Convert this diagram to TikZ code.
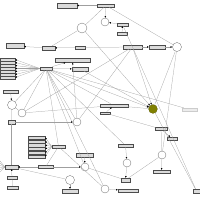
\documentclass[tikz,border=0pt]{standalone}
\usetikzlibrary{arrows.meta}
\definecolor{olivedot}{RGB}{128,128,0}
\tikzset{
  lbl/.style={draw=black!70, fill=gray!28, line width=0.3pt, inner sep=0pt, rectangle},
  place/.style={draw=black!60, fill=white, circle, line width=0.4pt, inner sep=0pt},
  link/.style={gray!75, line width=0.35pt},
  feed/.style={link, -{Latex[length=0.9mm, width=0.8mm, color=black]}},
}
\begin{document}
\begin{tikzpicture}[x=0.05cm, y=-0.05cm]
  \useasboundingbox (0,0) rectangle (200,200);
  % label boxes
  \foreach \n/\x/\y/\w/\h in {b1/67/5.5/20/5, b2/106/5.5/17/3.5, b3/122.5/24.5/11/3, b4/122/33.5/10/3,
      b5/15/46/18/5, b6/48.5/48/13/3.5, b7/80/47.5/10/3.5, b8/132.5/47/19/3.5, b9/157/47/16/3.5,
      b10/72.5/60.5/35/4, hub/46/68.5/12/3.5, b11/80/69/16/4, b12/10.5/92/15/3, b13/11.5/122/7/4,
      b14/114/105.5/28/3.5, b15/105/113/10/2.5, b17/161/129/12/3, b18/172/138.5/10/3,
      b19/161.5/171.5/17/3, b20/125.5/145.5/15/3, b21/125.5/180/9/4, b22/128/190.5/20/3,
      b23/196.5/191/7/4, b24/58.5/146.5/13/3.5, b25/11.5/167/13/4, b26/45.5/167/15/3,
      b27/84.5/155/17/4, b28/12/177.5/10/3, b29/12.5/187.5/11/3, b30/70/191/16/4}
    \node[lbl, minimum width=\w*0.5mm, minimum height=\h*0.5mm] (\n) at (\x,\y) {};
  \node[lbl, draw=gray!40, fill=gray!15, minimum width=7.5mm, minimum height=1.5mm] (b16) at (189.5,109.5) {};
  % stacked lists
  \foreach \i in {0,...,6}
    \node[lbl, minimum width=7.5mm, minimum height=1.3mm] (lst-\i) at (7.5,59.5+3*\i) {};
  \foreach \i in {0,...,5}
    \node[lbl, minimum width=8.5mm, minimum height=1.6mm] (col-\i) at (36.5,137.5+3.8*\i) {};
  % places
  \foreach \n/\x/\y/\r in {c1/82/28/5, c2/105/22/4, c3/177/47/4.5, c4/12/105/4.5, c5/22/113/4,
      c6/77/122/4, c8/162/155/4, c9/127/163/4, c10/105/189/4, c11/85/167/4, c12/70/180/4.5}
    \node[place, minimum size=\r*1mm] (\n) at (\x,\y) {};
  \node[place, fill=olivedot, draw=olivedot!70!black, minimum size=4.4mm] (c7) at (153,109) {};

  % fans
  \foreach \i in {0,...,6}
    \draw[feed] (hub.west) -- (lst-\i.east);
  \foreach \i in {0,...,5}
    \draw[feed] (b24.west) -- (col-\i.east);
  \foreach \i in {0,...,5} {
    \coordinate (fan-\i) at (0,161+2.2*\i);
    \draw[link] (fan-\i) -- (b25.west);
  }

  % arrows
  \foreach \a/\b in {b2/b1, b6/b5, b7/b6, b8/b9, b2/c2, b3/c2, b4/b3, b9/c3, hub/b11, hub/b10,
      c6/b10, b12/c4, b13/c6, b26/b25, b28/b25, b26/c11, b27/c11, b20/c9, c9/b21, b17/b18,
      c8/b19, c10/b22, c1/c7, b11/c7, hub/c7, b15/b14, b8/c7, c12/b30}
    \draw[feed] (\a) -- (\b);
  % plain links
  \foreach \a/\b in {c1/b2, c1/b6, b2/c3, b7/b8, c3/c7, c4/b13, c4/c5, b13/b25, b29/b28, b25/c12,
      b24/b26, b21/c8, b17/c8, hub/c4, hub/c5, hub/b24, hub/c6, hub/c11, hub/b20,
      hub/b14, hub/b16, hub/c10, b8/c5, b8/c6, b14/c7, c5/b14, b15/b17, c7/b23, b3/b23,
      c11/b21, c3/c8, b24/c10}
    \draw[link] (\a) -- (\b);
\end{tikzpicture}
\end{document}
